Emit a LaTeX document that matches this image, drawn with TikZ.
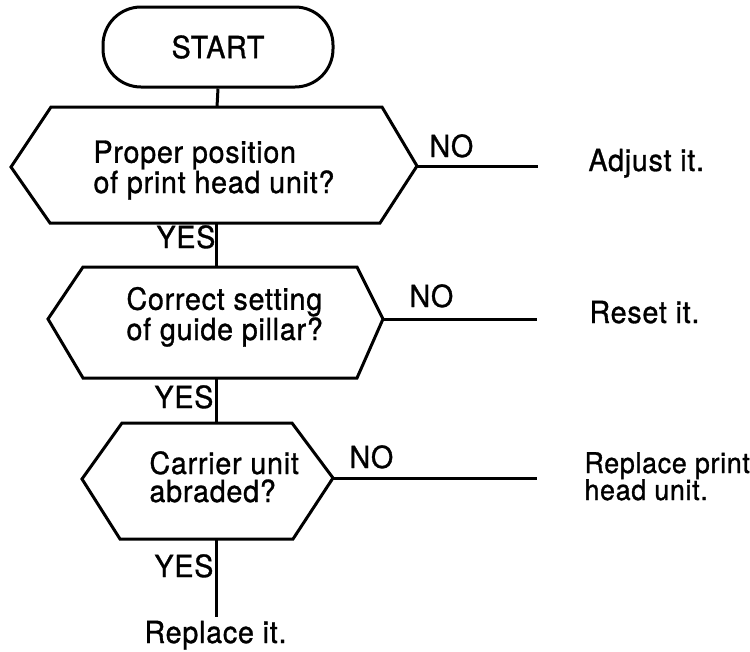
\documentclass[tikz,border=0pt]{standalone}
\usepackage{fontspec}
\setmainfont{TeX Gyre Heros}[FakeBold=1,FakeStretch=0.94,LetterSpace=2.5]
\newfontfamily\medfont{TeX Gyre Heros}[FakeBold=1,FakeStretch=0.94,LetterSpace=2.5]
\begin{document}
\begin{tikzpicture}[x=1pt,y=-1pt,line width=3pt,line join=miter,
  lbl/.style={inner sep=0pt,anchor=base west,font=\medfont\fontsize{30.5}{28}\selectfont,align=left},
  term/.style={draw,rounded corners=38pt,minimum width=230pt,minimum height=80pt,inner sep=0pt,font=\medfont\fontsize{30.5}{28}\selectfont}]
\useasboundingbox (0,0) rectangle (750,651);
% start
\node[term] (start) at (218,47) {START};
% decision 1
\coordinate (h1l) at (11,167);
\coordinate (h1tl) at (51,107);
\coordinate (h1tr) at (382,107);
\coordinate (h1r) at (417,166);
\coordinate (h1br) at (380,223);
\coordinate (h1bl) at (50,223);
\coordinate (h1t) at (217,107);
\coordinate (h1b) at (216,223);
\draw (h1l) -- (h1tl) -- (h1tr) -- (h1r) -- (h1br) -- (h1bl) -- cycle;
\node[lbl] (q1) at (92,193) {Proper position\\of print head unit?};
% decision 2
\coordinate (h2l) at (48,319);
\coordinate (h2tl) at (83,267);
\coordinate (h2tr) at (357,267);
\coordinate (h2r) at (383,319);
\coordinate (h2br) at (357,378);
\coordinate (h2bl) at (83,378);
\coordinate (h2t) at (216,267);
\coordinate (h2b) at (216,378);
\draw (h2l) -- (h2tl) -- (h2tr) -- (h2r) -- (h2br) -- (h2bl) -- cycle;
\node[lbl] (q2) at (125,340) {Correct setting\\of guide pillar?};
% decision 3
\coordinate (h3l) at (82,479);
\coordinate (h3tl) at (122,423);
\coordinate (h3tr) at (292,423);
\coordinate (h3r) at (333,478);
\coordinate (h3br) at (293,539);
\coordinate (h3bl) at (120,539);
\coordinate (h3t) at (216,423);
\coordinate (h3b) at (216,539);
\draw (h3l) -- (h3tl) -- (h3tr) -- (h3r) -- (h3br) -- (h3bl) -- cycle;
\node[lbl] (q3) at (148,502) {Carrier unit\\abraded?};
% free ends
\coordinate (n1) at (538,166);
\coordinate (n2) at (537,319);
\coordinate (n3) at (537,478);
\coordinate (endv) at (216,617);
% connectors
\draw (start.south) -- (h1t);
\draw (h1b) -- (h2t);
\draw (h2b) -- (h3t);
\draw (h3b) -- (endv);
\draw (h1r) -- (n1);
\draw (h2r) -- (n2);
\draw (h3r) -- (n3);
% labels
\node[lbl] (y1) at (155,248) {YES};
\node[lbl] (y2) at (153,408) {YES};
\node[lbl] (y3) at (153,577) {YES};
\node[lbl] (no1) at (428,157) {NO};
\node[lbl] (no2) at (408,307) {NO};
\node[lbl] (no3) at (348,468) {NO};
\node[lbl] (a1) at (587,171) {Adjust it.};
\node[lbl] (a2) at (588,323) {Reset it.};
\node[lbl,font=\medfont\fontsize{28.5}{27}\selectfont] (a3) at (583,500) {Replace print\\head unit.};
\node[lbl] (a4) at (143,643) {Replace it.};
\end{tikzpicture}
\end{document}
